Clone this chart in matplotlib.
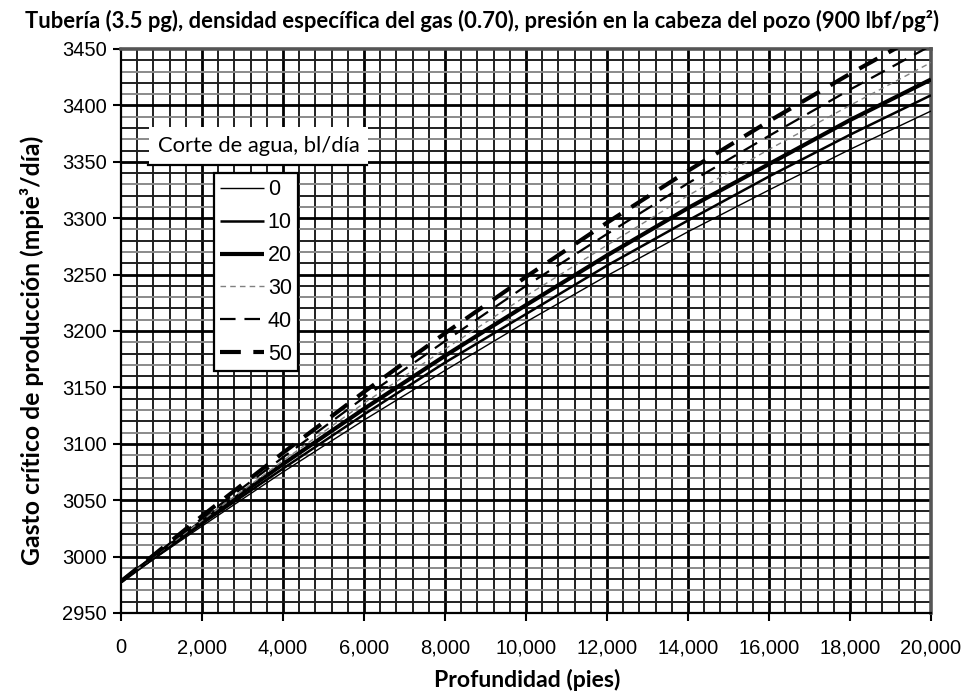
import matplotlib
matplotlib.use("Agg")
import matplotlib.pyplot as plt
from matplotlib.ticker import MultipleLocator, FuncFormatter
from matplotlib.patches import Rectangle
from matplotlib.lines import Line2D

# Depth (ft) and critical gas rate (Mft3/day) for each water cut (bbl/day)
depth = [0, 2000, 4000, 6000, 8000, 10000, 12000, 14000, 16000, 18000, 20000]
water_cut = ["0", "10", "20", "30", "40", "50"]
rate_0 = [2978, 3027, 3075, 3121, 3165, 3208, 3249, 3288, 3325, 3361, 3395]
rate_10 = [2978, 3029, 3078, 3126, 3172, 3215, 3258, 3298, 3337, 3374, 3409]
rate_20 = [2978, 3031, 3082, 3131, 3178, 3223, 3267, 3309, 3348, 3387, 3423]
rate_30 = [2978, 3032, 3085, 3136, 3184, 3231, 3276, 3320, 3361, 3400, 3438]
rate_40 = [2978, 3034, 3088, 3141, 3191, 3240, 3286, 3331, 3373, 3414, 3453]
rate_50 = [2978, 3036, 3092, 3146, 3198, 3248, 3296, 3342, 3386, 3428, 3468]
series = [rate_0, rate_10, rate_20, rate_30, rate_40, rate_50]

styles = [
    dict(color="black", lw=1.0, ls="-"),
    dict(color="black", lw=1.8, ls="-"),
    dict(color="black", lw=3.0, ls="-"),
    dict(color="#808080", lw=1.0, ls=(0, (4, 3))),
    dict(color="black", lw=1.6, ls=(0, (7, 4))),
    dict(color="black", lw=3.0, ls=(0, (5, 3))),
]

W, H = 965, 694
fig = plt.figure(figsize=(W / 100, H / 100), dpi=100)
ax = fig.add_axes([121 / W, 1 - 613 / H, (931 - 121) / W, (613 - 49) / H])

ax.set_xlim(0, 20000)
ax.set_ylim(2950, 3450)

# grid: vertical every 400 ft, horizontal every 10 units
for x in range(400, 20000, 400):
    major = x % 2000 == 0
    ax.axvline(x, color="black" if major else "#202020",
               lw=2.0 if major else 1.4, zorder=1)
for y in range(2960, 3450, 10):
    if y % 50 == 0:
        ax.axhline(y, color="black", lw=2.0, zorder=1)
    else:
        ax.axhline(y, color="#202020" if (y // 10) % 2 == 0 else "#8a8a8a",
                   lw=1.4, zorder=1)

handles = []
for lab, vals, st in zip(water_cut, series, styles):
    (ln,) = ax.plot(depth, vals, label=lab, zorder=3, clip_on=True,
                    solid_capstyle="butt", dash_capstyle="butt", **st)
    handles.append(ln)

ax.xaxis.set_major_locator(MultipleLocator(2000))
ax.yaxis.set_major_locator(MultipleLocator(50))
ax.xaxis.set_major_formatter(FuncFormatter(lambda v, p: f"{int(v):,}"))
ax.tick_params(axis="both", which="major", direction="out", length=6,
               width=1.5, color="black", labelsize=14.5, pad=4)
ax.tick_params(axis="x", pad=12)
for lbl in ax.get_xticklabels() + ax.get_yticklabels():
    lbl.set_fontfamily("Liberation Sans")

for side in ("left", "bottom"):
    ax.spines[side].set_color("black")
    ax.spines[side].set_linewidth(1.6)
for side in ("top", "right"):
    ax.spines[side].set_color("#555555")
    ax.spines[side].set_linewidth(2.6)

# legend title panel
tr = ax.transAxes
def ax_x(px):
    return (px - 121) / (931 - 121)
def ax_y(py):
    return (613 - py) / (613 - 49)

ax.add_patch(Rectangle((ax_x(149), ax_y(165)), ax_x(368) - ax_x(149),
                       ax_y(127) - ax_y(165), transform=tr,
                       facecolor="white", edgecolor="none", zorder=5))
ax.add_line(Line2D([ax_x(148), ax_x(367)], [ax_y(165), ax_y(165)],
                   transform=tr, color="black", lw=1.6, zorder=6))
ax.text((ax_x(149) + ax_x(368)) / 2, ax_y(146), "Corte de agua, bl/día",
        transform=tr, ha="center", va="center", fontsize=15.8,
        family="Lato", zorder=7)

leg = ax.legend(handles=handles, loc="upper left",
                bbox_to_anchor=(ax_x(214), ax_y(173)), borderaxespad=0,
                fancybox=False, edgecolor="black", framealpha=1,
                handlelength=2.0, handletextpad=0.2, labelspacing=0.55,
                borderpad=0.3, prop={"family": "Liberation Sans", "size": 15.5})
leg.get_frame().set_linewidth(1.6)
leg.set_zorder(8)

fig.text(0.5, 1 - 28 / H,
         "Tubería (3.5 pg), densidad específica del gas (0.70), presión en la cabeza del pozo (900 lbf/pg²)",
         ha="center", va="baseline", fontsize=15.8, fontweight="bold", family="Lato")
fig.text(32 / W, 1 - 350 / H, "Gasto crítico de producción (mpie³/día)",
         rotation=90, ha="center", va="center", fontsize=17.8,
         fontweight="bold", family="Lato")
fig.text(527 / W, 1 - 680 / H, "Profundidad (pies)", ha="center", va="center",
         fontsize=16.6, fontweight="bold", family="Lato")

fig.savefig("out.png", dpi=100)
